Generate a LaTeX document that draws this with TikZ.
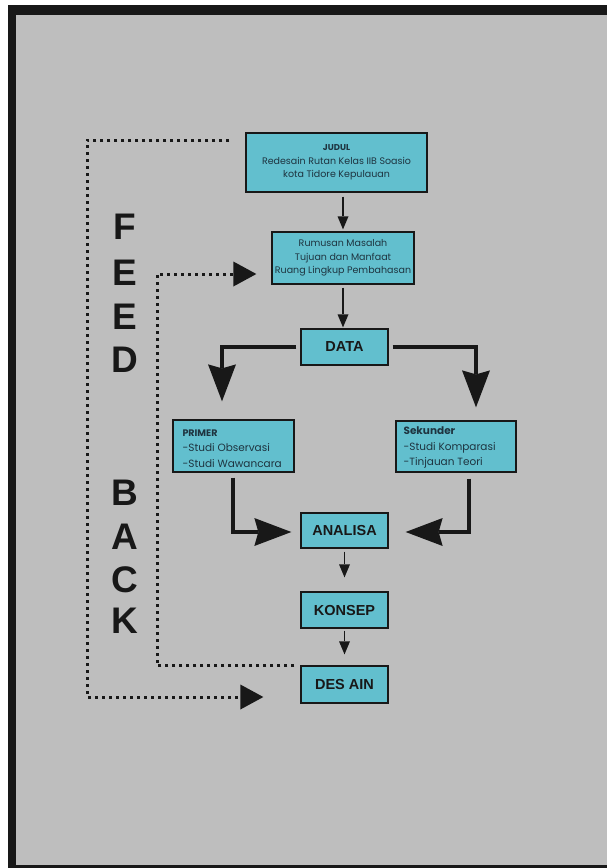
\documentclass[tikz,border=0pt]{standalone}
\usepackage{fontspec}
\setmainfont{Liberation Sans}
\newfontfamily\gothic{Poppins}
\usetikzlibrary{arrows.meta}
\definecolor{bg}{HTML}{BEBEBE}
\definecolor{frame}{HTML}{181818}
\definecolor{boxfill}{HTML}{62BFCE}
\definecolor{txt}{HTML}{1E3440}
\begin{document}
\begin{tikzpicture}[x=1pt,y=-1pt,
  box/.style={draw=frame, line width=1.3pt, fill=boxfill, inner sep=0pt, align=center},
  titlebox/.style={box, font=\bfseries\fontsize{14.5}{16}\selectfont, text=frame, minimum width=87pt, minimum height=36pt},
  smalltext/.style={font=\gothic\fontsize{9.5}{13.5}\selectfont, text=txt},
  listtext/.style={font=\gothic\fontsize{10.5}{15.5}\selectfont, text=txt, align=left, inner sep=0pt},
  thinarrow/.style={-{Triangle[length=13pt,width=11pt,line width=0pt]}, line width=1.3pt, draw=frame},
  bigarrow/.style={-{Stealth[length=37pt,width=28pt,inset=4pt,line width=0pt]}, line width=4.5pt, draw=frame},
  fb/.style={line width=3pt, draw=frame, dash pattern=on 3pt off 4pt, -{Triangle[length=23pt,width=25pt,line width=0pt]}},
  fbletter/.style={font=\bfseries\fontsize{37}{40}\selectfont, text=frame, inner sep=0pt}
]
\useasboundingbox (0,0) rectangle (606,868);
\fill[white] (-5,-5) rectangle (620,875);
\fill[frame] (8,5) rectangle (620,875);
\fill[bg] (16,15) rectangle (620,865);

% boxes
\node[box, smalltext, minimum width=181pt, minimum height=59pt] (judul) at (336.5,162.5)
  {{\bfseries\fontsize{8.5}{13.5}\selectfont JUDUL}\\Redesain Rutan Kelas IIB Soasio\\kota Tidore Kepulauan};
\node[box, smalltext, minimum width=142pt, minimum height=52pt] (rumusan) at (343,258)
  {Rumusan Masalah\\Tujuan dan Manfaat\\Ruang Lingkup Pembahasan};
\node[titlebox] (data) at (344.5,347) {DATA};
\node[box, minimum width=121pt, minimum height=52pt] (primer) at (233.5,446) {};
\node[listtext, anchor=west] (primertext) at ([xshift=10pt,yshift=-2.5pt]primer.west)
  {{\bfseries\fontsize{9.5}{15.5}\selectfont PRIMER}\\-Studi Observasi\\-Studi Wawancara};
\node[box, minimum width=120pt, minimum height=51pt] (sekunder) at (456,446.5) {};
\node[listtext, anchor=west] (sekundertext) at ([xshift=8pt,yshift=-1pt]sekunder.west)
  {{\bfseries Sekunder}\\-Studi Komparasi\\-Tinjauan Teori};
\node[titlebox, minimum height=35pt] (analisa) at (344.5,530.5) {ANALISA};
\node[titlebox] (konsep) at (344.5,610) {KONSEP};
\node[titlebox, minimum height=37pt] (desain) at (344.5,684.5) {DES AIN};

% FEED BACK
\node[fbletter] (f1) at (125,227) {F};
\node[fbletter] (f2) at (125,273) {E};
\node[fbletter] (f3) at (125,317) {E};
\node[fbletter] (f4) at (125,360) {D};
\node[fbletter] (b1) at (125,493) {B};
\node[fbletter] (b2) at (125,537) {A};
\node[fbletter] (b3) at (125,580) {C};
\node[fbletter] (b4) at (125,621) {K};

% thin arrows
\draw[thinarrow, shorten <=4pt, shorten >=2pt] (judul.south -| rumusan.north) -- (rumusan.north);
\draw[thinarrow, shorten <=3pt, shorten >=1pt] (rumusan.south) -- (rumusan.south |- data.north);
\draw[thinarrow, shorten <=3pt, shorten >=14pt] (analisa.south) -- (konsep.north);
\draw[thinarrow, shorten <=2pt, shorten >=11pt] (konsep.south) -- (desain.north);

% thick arrows
\draw[bigarrow, shorten <=4pt] (data.west) -| ([xshift=-11.5pt,yshift=18pt]primer.north);
\draw[bigarrow, shorten <=4pt] (data.east) -| ([xshift=20pt,yshift=13pt]sekunder.north);
\draw[bigarrow] ([xshift=-0.5pt,yshift=-5pt]primer.south) |- ([xshift=-9pt,yshift=-1.5pt]analisa.west);
\draw[bigarrow] ([xshift=13pt,yshift=-6pt]sekunder.south) |- ([xshift=17pt,yshift=-1.5pt]analisa.east);

% feedback
\draw[fb] ([xshift=-16pt,yshift=-8pt]judul.north west) -| (87,697) -- ([xshift=-37pt,yshift=-12.5pt]desain.west);
\draw[fb] ([xshift=-6pt]desain.north west) -| (157,274) -- ([xshift=-15pt,yshift=-16pt]rumusan.west);
\end{tikzpicture}
\end{document}
